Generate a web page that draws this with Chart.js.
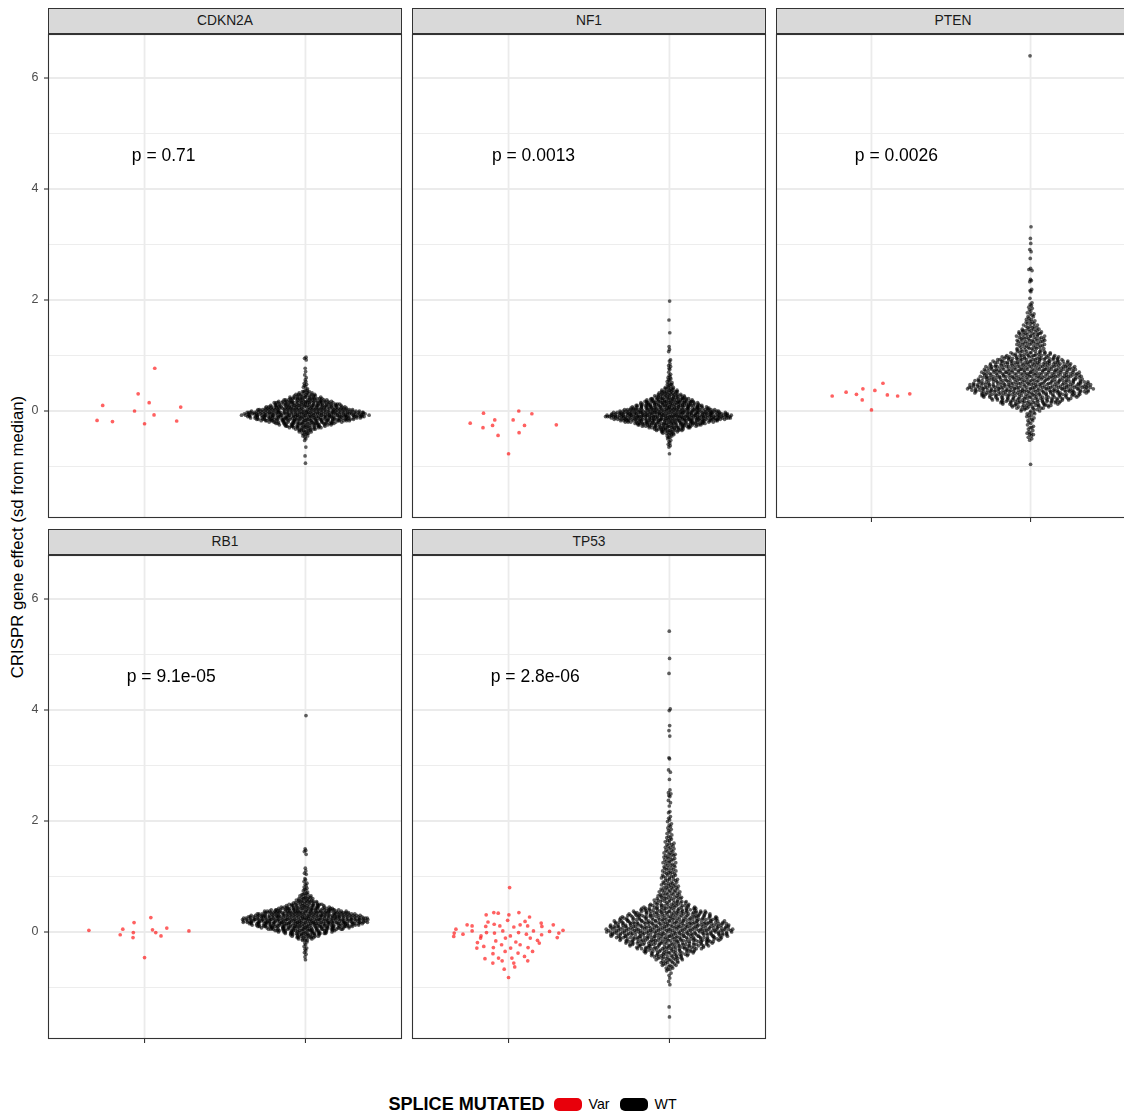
<!DOCTYPE html>
<html>
<head>
<meta charset="utf-8">
<title>CRISPR gene effect by splice mutation status</title>
<script src="https://cdn.jsdelivr.net/npm/chart.js@4.4.1/dist/chart.umd.min.js"></script>
<style>
  html, body { margin: 0; padding: 0; background: #ffffff; overflow: hidden; }
  #page {
    position: relative; width: 1124px; height: 1113px; overflow: hidden;
    font-family: "Liberation Sans", Arial, Helvetica, sans-serif; background: #ffffff;
  }
  #page canvas { position: absolute; left: 0; top: 0; }
  .strip {
    position: absolute; box-sizing: border-box; height: 26px;
    background: #d9d9d9; border: 1px solid #333333; color: #1a1a1a;
    font-size: 13.8px; line-height: 24px; text-align: center; white-space: nowrap;
  }
  #ytitle {
    position: absolute; left: 18px; top: 537px; white-space: nowrap;
    transform: translate(-50%, -50%) rotate(-90deg);
    font-size: 16.8px; color: #000000;
  }
  #legend {
    position: absolute; left: 0; width: 1075px; top: 1094px; height: 20px;
    display: flex; justify-content: center; align-items: center; color: #000000;
  }
  #legend .ttl { font-weight: bold; font-size: 18.1px; margin-right: 9px; }
  #legend .key { width: 28px; height: 13px; border-radius: 5px; margin-right: 7px; }
  #legend .lab { font-size: 14.2px; margin-right: 10px; }
</style>
</head>
<body>
<div id="page">
  <div id="ytitle">CRISPR gene effect (sd from median)</div>
  <div id="legend"></div>
</div>
<script>
// ---------------- data ----------------
const genes = ['CDKN2A', 'NF1', 'PTEN', 'RB1', 'TP53'];
const pLabels = ['p = 0.71', 'p = 0.0013', 'p = 0.0026', 'p = 9.1e-05', 'p = 2.8e-06'];
const groups = ['Var', 'WT'];
const yTickValues = [0, 2, 4, 6];
const yMinorValues = [-1, 1, 3, 5];

// splice-mutated lines (one value per cell line)
const cdkn2aVar = [0.77, 0.31, 0.15, 0.07, 0.10, 0.00, -0.07, -0.19, -0.18, -0.17, -0.23];
const nf1Var = [0.00, -0.04, -0.05, -0.16, -0.16, -0.22, -0.25, -0.26, -0.30, -0.26, -0.39, -0.44, -0.77];
const ptenVar = [0.50, 0.40, 0.37, 0.29, 0.27, 0.31, 0.34, 0.20, 0.27, 0.30, 0.02];
const rb1Var = [0.05, 0.02, 0.03, -0.01, -0.05, -0.10, -0.46, -0.01, 0.26, 0.17, 0.07, -0.07, 0.04];
const tp53Var = [0.80, 0.35, 0.35, 0.34, 0.31, 0.31, 0.27, 0.21, 0.18, 0.19, 0.13, 0.13, 0.10, 0.14,
  0.11, 0.11, 0.13, 0.10, 0.09, 0.11, 0.16, 0.01, 0.02, 0.02, -0.01, -0.02, -0.04, -0.05, -0.10,
  -0.02, -0.01, -0.04, 0.02, 0.05, 0.03, -0.02, -0.07, -0.07, -0.11, -0.15, -0.08, -0.11, -0.11,
  -0.16, -0.19, -0.20, -0.18, -0.23, -0.23, -0.26, -0.28, -0.28, -0.29, -0.29, -0.35, -0.35, -0.38,
  -0.39, -0.44, -0.47, -0.47, -0.48, -0.52, -0.52, -0.56, -0.56, -0.67, -0.63, -0.82];

// wild-type lines: sparse tails as single values, dense body as [value, number of lines]
const cdkn2aWtTail = [0.97, 0.95, 0.92, 0.77, 0.71, 0.65, 0.60, 0.56, 0.53, 0.50, 0.48, 0.46, 0.44,
  0.43, -0.53, -0.65, -0.81, -0.94];
const cdkn2aWtBins = [[0.400, 1], [0.375, 2], [0.350, 3], [0.325, 5], [0.300, 6], [0.275, 8],
  [0.250, 9], [0.225, 12], [0.200, 14], [0.175, 17], [0.150, 19], [0.125, 21], [0.100, 22],
  [0.075, 24], [0.050, 27], [0.025, 30], [0.000, 33], [-0.025, 36], [-0.050, 39], [-0.075, 40],
  [-0.100, 37], [-0.125, 34], [-0.150, 31], [-0.175, 27], [-0.200, 23], [-0.225, 19], [-0.250, 16],
  [-0.275, 13], [-0.300, 10], [-0.325, 7], [-0.350, 5], [-0.375, 4], [-0.400, 3], [-0.425, 2],
  [-0.450, 2], [-0.475, 1], [-0.500, 1]];

const nf1WtTail = [1.98, 1.64, 1.41, 1.16, 1.11, 1.07, 0.92, 0.90, 0.85, 0.82, 0.80, 0.77, 0.75,
  0.70, 0.66, 0.64, 0.61, 0.60, 0.58, 0.56, 0.55, 0.53, 0.51, 0.50, 0.48, 0.48, 0.47, -0.77];
const nf1WtBins = [[0.450, 2], [0.425, 3], [0.400, 4], [0.375, 5], [0.350, 6], [0.325, 7],
  [0.300, 8], [0.275, 9], [0.250, 11], [0.225, 13], [0.200, 15], [0.175, 17], [0.150, 18],
  [0.125, 20], [0.100, 22], [0.075, 23], [0.050, 25], [0.025, 29], [0.000, 33], [-0.025, 36],
  [-0.050, 38], [-0.075, 41], [-0.100, 42], [-0.125, 39], [-0.150, 36], [-0.175, 32], [-0.200, 28],
  [-0.225, 24], [-0.250, 21], [-0.275, 17], [-0.300, 14], [-0.325, 11], [-0.350, 8], [-0.375, 6],
  [-0.400, 4], [-0.425, 3], [-0.450, 2], [-0.475, 2], [-0.500, 1], [-0.525, 1], [-0.550, 1],
  [-0.575, 1], [-0.600, 1], [-0.625, 1], [-0.650, 1]];

const ptenWtTail = [6.40, 3.32, 3.11, 3.02, 2.91, 2.87, 2.75, 2.57, 2.55, 2.53, 2.37, 2.35, 2.33,
  2.19, 2.17, 2.15, 2.03, 1.95, 1.92, 1.90, 1.87, 1.85, 1.82, 1.80, 1.77, -0.96];
const ptenWtBins = [[1.750, 2], [1.725, 1], [1.700, 2], [1.675, 1], [1.650, 2], [1.625, 2],
  [1.600, 2], [1.575, 3], [1.550, 2], [1.525, 3], [1.500, 3], [1.475, 4], [1.450, 4], [1.425, 5],
  [1.400, 5], [1.375, 5], [1.350, 5], [1.325, 5], [1.300, 6], [1.275, 6], [1.250, 5], [1.225, 6],
  [1.200, 5], [1.175, 5], [1.150, 5], [1.125, 5], [1.100, 5], [1.075, 6], [1.050, 7], [1.025, 8],
  [1.000, 10], [0.975, 11], [0.950, 12], [0.925, 13], [0.900, 14], [0.875, 15], [0.850, 15],
  [0.825, 16], [0.800, 17], [0.775, 17], [0.750, 18], [0.725, 18], [0.700, 17], [0.675, 18],
  [0.650, 18], [0.625, 19], [0.600, 19], [0.575, 20], [0.550, 20], [0.525, 21], [0.500, 22],
  [0.475, 23], [0.450, 23], [0.425, 24], [0.400, 24], [0.375, 23], [0.350, 22], [0.325, 21],
  [0.300, 20], [0.275, 18], [0.250, 17], [0.225, 16], [0.200, 15], [0.175, 13], [0.150, 12],
  [0.125, 10], [0.100, 9], [0.075, 7], [0.050, 6], [0.025, 4], [0.000, 3], [-0.025, 2],
  [-0.050, 2], [-0.075, 2], [-0.100, 1], [-0.125, 2], [-0.150, 1], [-0.175, 2], [-0.200, 1],
  [-0.225, 1], [-0.250, 1], [-0.275, 1], [-0.300, 2], [-0.325, 1], [-0.350, 1], [-0.375, 1],
  [-0.400, 2], [-0.425, 2], [-0.450, 1], [-0.475, 1], [-0.500, 1], [-0.525, 1]];

const rb1WtTail = [3.90, 1.50, 1.47, 1.45, 1.40, 1.15, 1.10, 1.06, 1.04, 0.96, 0.94, 0.91, 0.88,
  0.86, 0.83, 0.81, 0.79, 0.77, 0.76, 0.74, 0.72, -0.18, -0.20, -0.23, -0.26, -0.29, -0.31, -0.34,
  -0.37, -0.40, -0.45, -0.50];
const rb1WtBins = [[0.700, 2], [0.675, 3], [0.650, 3], [0.625, 4], [0.600, 5], [0.575, 6],
  [0.550, 7], [0.525, 8], [0.500, 10], [0.475, 12], [0.450, 14], [0.425, 17], [0.400, 21],
  [0.375, 24], [0.350, 27], [0.325, 30], [0.300, 33], [0.275, 35], [0.250, 37], [0.225, 38],
  [0.200, 38], [0.175, 37], [0.150, 35], [0.125, 32], [0.100, 29], [0.075, 26], [0.050, 23],
  [0.025, 19], [0.000, 16], [-0.025, 13], [-0.050, 10], [-0.075, 8], [-0.100, 6], [-0.125, 4],
  [-0.150, 3]];

const tp53WtTail = [5.42, 4.93, 4.66, 4.02, 3.99, 3.72, 3.63, 3.53, 3.14, 3.12, 2.92, 2.88, 2.75,
  2.56, 2.51, 2.49, 2.46, 2.44, 2.37, 2.33, 2.27, 2.17, 2.15, 2.08, 2.05, 2.02, 1.99, -0.74, -0.78,
  -0.83, -0.89, -0.95, -1.35, -1.53];
const tp53WtBins = [[1.950, 1], [1.925, 1], [1.900, 1], [1.875, 1], [1.850, 1], [1.825, 1],
  [1.800, 1], [1.775, 1], [1.750, 1], [1.725, 1], [1.700, 2], [1.675, 1], [1.650, 2], [1.625, 1],
  [1.600, 2], [1.575, 2], [1.550, 2], [1.525, 2], [1.500, 2], [1.475, 2], [1.450, 2], [1.425, 2],
  [1.400, 3], [1.375, 2], [1.350, 3], [1.325, 2], [1.300, 3], [1.275, 2], [1.250, 3], [1.225, 2],
  [1.200, 3], [1.175, 2], [1.150, 3], [1.125, 2], [1.100, 3], [1.075, 3], [1.050, 3], [1.025, 3],
  [1.000, 3], [0.975, 3], [0.950, 3], [0.925, 3], [0.900, 3], [0.875, 3], [0.850, 4], [0.825, 3],
  [0.800, 4], [0.775, 4], [0.750, 4], [0.725, 4], [0.700, 4], [0.675, 4], [0.650, 5], [0.625, 5],
  [0.600, 5], [0.575, 6], [0.550, 6], [0.525, 7], [0.500, 7], [0.475, 9], [0.450, 10], [0.425, 11],
  [0.400, 12], [0.375, 14], [0.350, 15], [0.325, 16], [0.300, 17], [0.275, 18], [0.250, 19],
  [0.225, 20], [0.200, 21], [0.175, 22], [0.150, 22], [0.125, 23], [0.100, 23], [0.075, 24],
  [0.050, 24], [0.025, 25], [0.000, 25], [-0.025, 24], [-0.050, 23], [-0.075, 22], [-0.100, 21],
  [-0.125, 20], [-0.150, 19], [-0.175, 18], [-0.200, 17], [-0.225, 16], [-0.250, 15], [-0.275, 14],
  [-0.300, 13], [-0.325, 11], [-0.350, 10], [-0.375, 9], [-0.400, 8], [-0.425, 7], [-0.450, 7],
  [-0.475, 6], [-0.500, 5], [-0.525, 4], [-0.550, 4], [-0.575, 3], [-0.600, 3], [-0.625, 2],
  [-0.650, 2], [-0.675, 2], [-0.700, 1]];

const varValues = [cdkn2aVar, nf1Var, ptenVar, rb1Var, tp53Var];
const wtTails = [cdkn2aWtTail, nf1WtTail, ptenWtTail, rb1WtTail, tp53WtTail];
const wtBins = [cdkn2aWtBins, nf1WtBins, ptenWtBins, rb1WtBins, tp53WtBins];

// ---------------- layout & style ----------------
const CANVAS_W = 1130, CANVAS_H = 1113;
const Y_MIN = -1.928, Y_MAX = 6.793;      // shared y limits of all facets
const X_MIN = 0.4, X_MAX = 2.6;           // two discrete groups at 1 and 2
const P_LABEL_Y = 4.6;
const SWARM_WIDTH = 0.4;                  // max horizontal spread of a group
const POINT_R = 1.85;
const panels = [
  { left: 48,  top: 34,  right: 402,  bottom: 518,  yAxis: true,  xTicks: false },
  { left: 412, top: 34,  right: 766,  bottom: 518,  yAxis: false, xTicks: false },
  { left: 776, top: 34,  right: 1130, bottom: 518,  yAxis: false, xTicks: true },
  { left: 48,  top: 555, right: 402,  bottom: 1039, yAxis: true,  xTicks: true },
  { left: 412, top: 555, right: 766,  bottom: 1039, yAxis: false, xTicks: true }
];
const STRIP_H = 26;
const FONT = '"Liberation Sans", Arial, Helvetica, sans-serif';
const groupColors = ['rgba(255,0,0,0.62)', 'rgba(0,0,0,0.62)'];
const legendColors = ['#e8000b', '#000000'];

// ---------------- quasirandom (van der Corput) swarm offsets ----------------
function vanDerCorput(n) {
  const out = [];
  for (let i = 1; i <= n; i++) {
    let v = 0, f = 0.5, k = i;
    while (k > 0) { v += (k & 1) * f; k >>= 1; f /= 2; }
    out.push(v);
  }
  return out;
}
function quantile7(sorted, p) {
  const h = (sorted.length - 1) * p;
  const lo = Math.floor(h);
  const hi = Math.min(lo + 1, sorted.length - 1);
  return sorted[lo] + (h - lo) * (sorted[hi] - sorted[lo]);
}
function bwNrd0(x) {
  const n = x.length;
  const s = [...x].sort((a, b) => a - b);
  const mean = x.reduce((a, b) => a + b, 0) / n;
  const sd = Math.sqrt(x.reduce((a, b) => a + (b - mean) ** 2, 0) / (n - 1));
  const iqr = quantile7(s, 0.75) - quantile7(s, 0.25);
  let lo = Math.min(sd, iqr / 1.34);
  if (!(lo > 0)) lo = sd || Math.abs(s[0]) || 1;
  return 0.9 * lo * Math.pow(n, -0.2);
}
function quasiOffsets(y, width, adjust) {
  const n = y.length;
  if (n < 3) return y.map(() => 0);
  const bw = bwNrd0(y) * adjust;
  const lo = Math.min(...y) - 3 * bw, hi = Math.max(...y) + 3 * bw;
  const m = 1024, gy = new Array(m);
  let gmax = 0;
  for (let i = 0; i < m; i++) {
    const gx = lo + (hi - lo) * i / (m - 1);
    let s = 0;
    for (let j = 0; j < n; j++) { const z = (gx - y[j]) / bw; s += Math.exp(-0.5 * z * z); }
    gy[i] = s; if (s > gmax) gmax = s;
  }
  const densAt = v => {
    const t = (v - lo) / (hi - lo) * (m - 1);
    const i = Math.min(m - 2, Math.max(0, Math.floor(t)));
    const f = t - i;
    return (gy[i] * (1 - f) + gy[i + 1] * f) / gmax;
  };
  const order = y.map((v, i) => i).sort((a, b) => (y[a] - y[b]) || (a - b));
  const vdc = vanDerCorput(n);
  const out = new Array(n);
  order.forEach((idx, r) => { out[idx] = (vdc[r] * 2 - 1) * densAt(y[idx]) * width; });
  return out;
}
function wtValuesOf(tail, bins) {
  const out = tail.slice();
  bins.forEach(([v, c]) => { for (let k = 0; k < c; k++) out.push(v); });
  return out;
}
function swarmPoints(values, groupPos) {
  const off = quasiOffsets(values, SWARM_WIDTH, 0.5);
  return values.map((v, i) => ({ x: groupPos + off[i], y: v }));
}

// ---------------- facet decoration plugin ----------------
function hline(ctx, x0, x1, y) { ctx.beginPath(); ctx.moveTo(x0, y); ctx.lineTo(x1, y); ctx.stroke(); }
function vline(ctx, x, y0, y1) { ctx.beginPath(); ctx.moveTo(x, y0); ctx.lineTo(x, y1); ctx.stroke(); }

const facetDecor = {
  id: 'facetDecor',
  beforeDatasetsDraw(chart, args, opts) {
    const { ctx, chartArea: a, scales: { x, y } } = chart;
    ctx.save();
    ctx.fillStyle = '#ffffff';
    ctx.fillRect(a.left, a.top, a.right - a.left, a.bottom - a.top);
    ctx.strokeStyle = '#ebebeb';
    ctx.lineWidth = 0.9;
    yMinorValues.forEach(v => hline(ctx, a.left, a.right, y.getPixelForValue(v)));
    ctx.lineWidth = 1.8;
    yTickValues.forEach(v => hline(ctx, a.left, a.right, y.getPixelForValue(v)));
    groups.forEach((g, i) => vline(ctx, x.getPixelForValue(i + 1), a.top, a.bottom));
    ctx.restore();
  },
  afterDatasetsDraw(chart, args, opts) {
    const { ctx, chartArea: a, scales: { x, y } } = chart;
    ctx.save();
    // test result label
    ctx.font = '17.5px ' + FONT;
    ctx.fillStyle = '#000000';
    ctx.textBaseline = 'middle';
    ctx.textAlign = 'left';
    const w = ctx.measureText(opts.pLabel).width;
    ctx.fillText(opts.pLabel, x.getPixelForValue(1) - 0.2 * w, y.getPixelForValue(P_LABEL_Y));
    // panel border
    ctx.strokeStyle = '#333333';
    ctx.lineWidth = 1.1;
    ctx.strokeRect(a.left + 0.5, a.top + 0.5, a.right - a.left - 1, a.bottom - a.top - 1);
    // axis ticks
    if (opts.xTicks) {
      groups.forEach((g, i) => vline(ctx, x.getPixelForValue(i + 1), a.bottom, a.bottom + 4));
    }
    if (opts.yAxis) {
      ctx.font = '12.5px ' + FONT;
      ctx.fillStyle = '#4d4d4d';
      ctx.textAlign = 'right';
      yTickValues.forEach(v => {
        const py = y.getPixelForValue(v);
        hline(ctx, a.left - 4, a.left, py);
        ctx.fillText(String(v), a.left - 9.5, py);
      });
    }
    ctx.restore();
  }
};

// ---------------- build facets ----------------
const page = document.getElementById('page');
genes.forEach((gene, gi) => {
  const b = panels[gi];
  const strip = document.createElement('div');
  strip.className = 'strip';
  strip.style.left = b.left + 'px';
  strip.style.top = (b.top - STRIP_H) + 'px';
  strip.style.width = (b.right - b.left) + 'px';
  strip.textContent = gene;

  const canvas = document.createElement('canvas');
  canvas.width = CANVAS_W; canvas.height = CANVAS_H;
  page.appendChild(canvas);
  page.appendChild(strip);

  const wtValues = wtValuesOf(wtTails[gi], wtBins[gi]);
  new Chart(canvas, {
    type: 'scatter',
    data: {
      datasets: [
        { label: groups[1], data: swarmPoints(wtValues, 2), backgroundColor: groupColors[1],
          pointRadius: POINT_R, pointBorderWidth: 0, borderColor: 'rgba(0,0,0,0)', order: 2 },
        { label: groups[0], data: swarmPoints(varValues[gi], 1), backgroundColor: groupColors[0],
          pointRadius: POINT_R, pointBorderWidth: 0, borderColor: 'rgba(0,0,0,0)', order: 1 }
      ]
    },
    options: {
      responsive: false, animation: false, devicePixelRatio: 1, events: [],
      layout: { padding: { left: b.left, top: b.top, right: CANVAS_W - b.right, bottom: CANVAS_H - b.bottom } },
      scales: {
        x: { type: 'linear', display: false, min: X_MIN, max: X_MAX },
        y: { type: 'linear', display: false, min: Y_MIN, max: Y_MAX }
      },
      plugins: {
        legend: { display: false }, tooltip: { enabled: false },
        facetDecor: { pLabel: pLabels[gi], yAxis: b.yAxis, xTicks: b.xTicks }
      }
    },
    plugins: [facetDecor]
  });
});

// ---------------- legend ----------------
const legend = document.getElementById('legend');
const ttl = document.createElement('span');
ttl.className = 'ttl'; ttl.textContent = 'SPLICE MUTATED';
legend.appendChild(ttl);
groups.forEach((g, i) => {
  const key = document.createElement('span');
  key.className = 'key'; key.style.background = legendColors[i];
  const lab = document.createElement('span');
  lab.className = 'lab'; lab.textContent = g;
  legend.appendChild(key); legend.appendChild(lab);
});
</script>
</body>
</html>
